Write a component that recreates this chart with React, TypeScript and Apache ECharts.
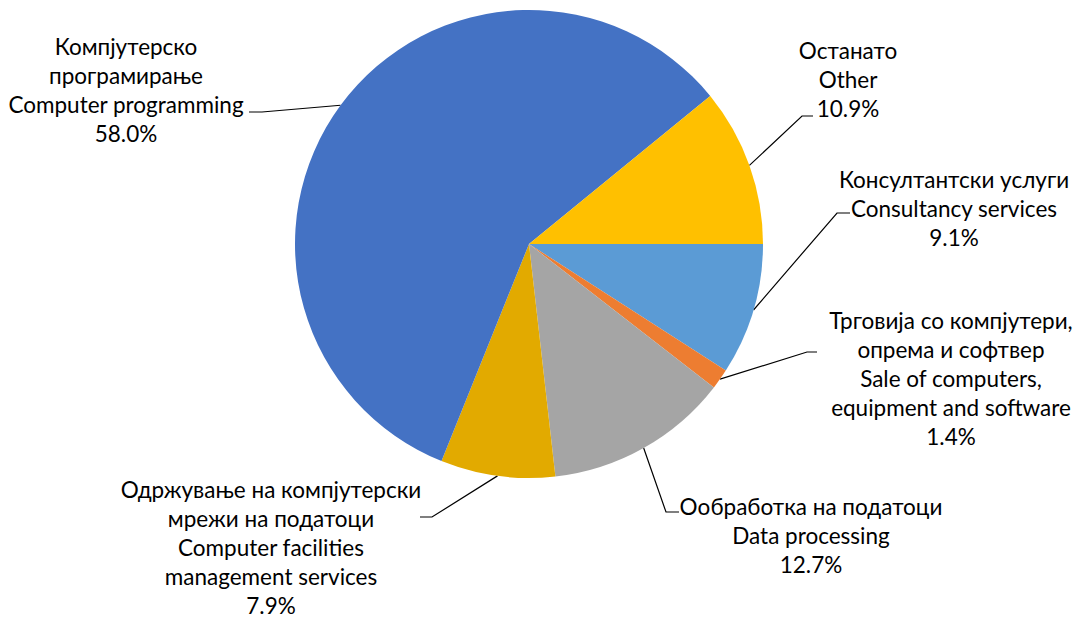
import React, { useEffect, useRef } from "react";
import * as echarts from "echarts";

const categories = [
  "Консултантски услуги\nConsultancy services",
  "Трговија со компјутери,\nопрема и софтвер\nSale of computers,\nequipment and software",
  "Oобработка на податоци\nData processing",
  "Одржување на компјутерски\nмрежи на податоци\nComputer facilities\nmanagement services",
  "Компјутерско\nпрограмирање\nComputer programming",
  "Останато\nOther",
];
const shares = [9.1, 1.4, 12.7, 7.9, 58.0, 10.9];
const colors = ["#5B9BD5", "#ED7D31", "#A5A5A5", "#E2AA00", "#4472C4", "#FFC000"];

// label placement: [labelCenterX, labelCenterY, bendX, bendY, endX, endY]
const labelPlacement: number[][] = [
  [954, 208, 837, 213, 850, 213],
  [951, 378, 807, 352, 817, 352],
  [811, 535, 666, 512, 679, 512],
  [271, 547.5, 432, 517, 420, 517],
  [126, 90, 262, 112, 249, 112],
  [848, 79, 802, 116, 813, 116],
];

const CX = 529;
const CY = 244;
const R = 234;

export default function App() {
  const ref = useRef<HTMLDivElement>(null);
  useEffect(() => {
    if (!ref.current) return;
    const chart = echarts.init(ref.current, undefined, { renderer: "svg" });
    const total = shares.reduce((a, b) => a + b, 0);
    let acc = 0;
    const anchors = shares.map((v) => {
      const mid = ((acc + v / 2) / total) * Math.PI * 2;
      acc += v;
      return [CX + R * Math.cos(mid), CY + R * Math.sin(mid)];
    });
    chart.setOption({
      animation: false,
      backgroundColor: "#ffffff",
      textStyle: { fontFamily: "Lato" },
      series: [
        {
          type: "pie",
          center: [CX, CY],
          radius: [0, R],
          startAngle: 0,
          clockwise: true,
          silent: true,
          avoidLabelOverlap: false,
          itemStyle: { borderWidth: 0 },
          emphasis: { disabled: true },
          label: {
            show: true,
            position: "outside",
            overflow: "none",
            color: "#000000",
            fontFamily: "Lato",
            fontSize: 22.5,
            lineHeight: 29,
            align: "center",
            formatter: (p: any) => `${p.name}\n${Number(p.value).toFixed(1)}%`,
          },
          labelLine: {
            show: true,
            lineStyle: { color: "#000000", width: 1.2 },
          },
          labelLayout: (params: any) => {
            const i = params.dataIndex;
            const pl = labelPlacement[i];
            const start =
              params.labelLinePoints && params.labelLinePoints[0]
                ? params.labelLinePoints[0]
                : anchors[i];
            return {
              x: pl[0],
              y: pl[1],
              align: "center",
              verticalAlign: "middle",
              labelLinePoints: [start, [pl[2], pl[3]], [pl[4], pl[5]]],
            };
          },
          data: categories.map((name, i) => ({
            name,
            value: shares[i],
            itemStyle: { color: colors[i] },
          })),
        },
      ],
    });
    return () => chart.dispose();
  }, []);
  return (
    <div
      ref={ref}
      style={{ position: "fixed", left: 0, top: 0, width: 1073, height: 620 }}
    />
  );
}
